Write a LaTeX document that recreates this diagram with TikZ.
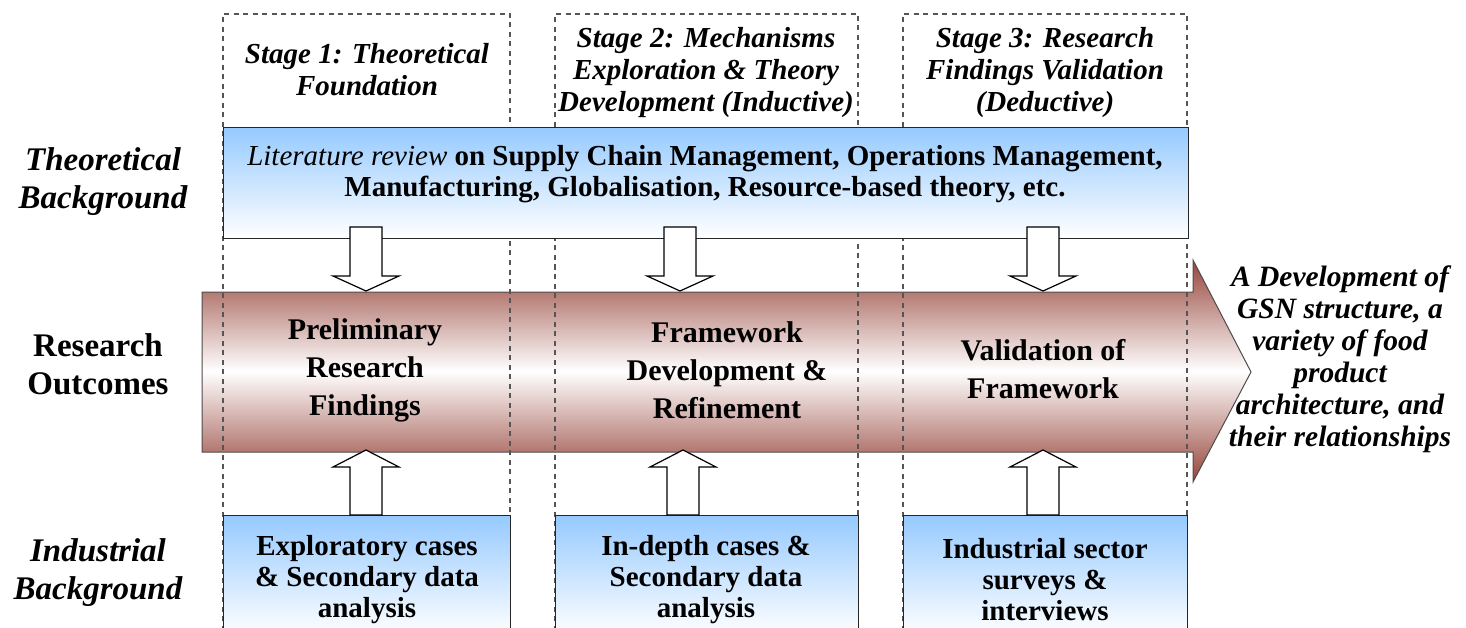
\documentclass[tikz,border=0pt]{standalone}
\usepackage{fontspec}
\setmainfont{Liberation Serif}
\usetikzlibrary{calc}
\newcommand\myfs[2]{\fontsize{#1}{#2}\selectfont}
\definecolor{maroonedge}{RGB}{150,68,58}
\definecolor{skyblue}{RGB}{150,202,255}
\definecolor{dashgray}{RGB}{85,85,85}
\tikzset{
  stagebox/.style={draw=dashgray, line width=1.2pt, dash pattern=on 5pt off 4.5pt},
  bluebox/.style={draw=black!85, line width=1.2pt, top color=skyblue, bottom color=white, inner sep=0pt},
  bigarrow/.style={draw=black!70, line width=1pt, top color=maroonedge, bottom color=maroonedge, middle color=white},
  blockarrow/.style={draw=black, line width=1.2pt, fill=white, line join=miter},
  txt/.style={inner sep=0pt, align=center, text=black},
  stagetxt/.style={txt, font=\myfs{29}{32}\bfseries\itshape},
  littxt/.style={txt, font=\myfs{29}{31}\bfseries},
  sidetxt/.style={txt, font=\myfs{33}{38}\bfseries\itshape},
  sideup/.style={txt, font=\myfs{33}{38}\bfseries},
  outtxt/.style={txt, font=\myfs{30}{38}\bfseries},
  bottxt/.style={txt, font=\myfs{29}{31}\bfseries},
  righttxt/.style={txt, font=\myfs{29.5}{32}\bfseries\itshape},
  pics/downblk/.style={code={\draw[blockarrow] (-16,0) -- (16,0) -- (16,49) -- (33,49) -- (0,64) -- (-33,49) -- (-16,49) -- cycle;}},
  pics/upblk/.style={code={\draw[blockarrow] (-16,0) -- (-16,-48) -- (-33,-48) -- (0,-65) -- (33,-48) -- (16,-48) -- (16,0) -- cycle;}}
}
\begin{document}
\begin{tikzpicture}[x=1pt,y=-1pt]
\useasboundingbox (0,0) rectangle (1466,628);
\clip (0,0) rectangle (1466,628);
% big research-outcome arrow
\draw[bigarrow] (202,292) -- (1193,292) -- (1193,260) -- (1251,372) -- (1193,482) -- (1193,452) -- (202,452) -- cycle;
% stage outlines
\draw[stagebox] (223,640) -- (223,14) -- (510,14) -- (510,640);
\draw[stagebox] (555,640) -- (555,14) -- (858,14) -- (858,640);
\draw[stagebox] (903,640) -- (903,14) -- (1187,14) -- (1187,640);
% literature box
\node[bluebox, anchor=north west, minimum width=965pt, minimum height=111pt] (lit) at (223,127) {};
% industrial boxes
\node[bluebox, anchor=north west, minimum width=287pt, minimum height=120pt] (b1) at (223,515) {};
\node[bluebox, anchor=north west, minimum width=303pt, minimum height=120pt] (b2) at (555,515) {};
\node[bluebox, anchor=north west, minimum width=284pt, minimum height=120pt] (b3) at (903,515) {};
% block arrows
\coordinate (d1) at (366,227);
\coordinate (d2) at (680,227);
\coordinate (d3) at (1043,227);
\coordinate (u1) at (366,515);
\coordinate (u2) at (683,515);
\coordinate (u3) at (1043,515);
\pic at (d1) {downblk};
\pic at (d2) {downblk};
\pic at (d3) {downblk};
\pic at (u1) {upblk};
\pic at (u2) {upblk};
\pic at (u3) {upblk};
% stage titles
\node[stagetxt] (s1) at (367,70) {Stage 1: Theoretical\\Foundation};
\node[stagetxt] (s2) at (706,73) {Stage 2: Mechanisms\\Exploration \& Theory\\Development (Inductive)};
\node[stagetxt] (s3) at (1045,73) {Stage 3: Research\\Findings Validation\\(Deductive)};
% literature text
\node[littxt] (littext) at (705,174) {\textit{\mdseries Literature review} on Supply Chain Management, Operations Management,\\Manufacturing, Globalisation, Resource-based theory, etc.};
% side labels
\node[sidetxt] (lb1) at (103,182) {Theoretical\\Background};
\node[sideup] (lb2) at (98,364) {Research\\Outcomes};
\node[sidetxt] (lb3) at (98,573) {Industrial\\Background};
% outcomes
\node[outtxt] (o1) at (365,370) {Preliminary\\Research\\Findings};
\node[outtxt] (o2) at (727,370) {Framework\\Development \&\\Refinement};
\node[outtxt] (o3) at (1043,369) {Validation of\\Framework};
% industrial texts
\node[bottxt] (t1) at (367,580) {Exploratory cases\\\& Secondary data\\analysis};
\node[bottxt] (t2) at (706,580) {In-depth cases \&\\Secondary data\\analysis};
\node[bottxt] (t3) at (1045,580) {Industrial sector\\surveys \&\\interviews};
% result text
\node[righttxt] (res) at (1340,359) {A Development of\\GSN structure, a\\variety of food\\product\\architecture, and\\their relationships};
\end{tikzpicture}
\end{document}
